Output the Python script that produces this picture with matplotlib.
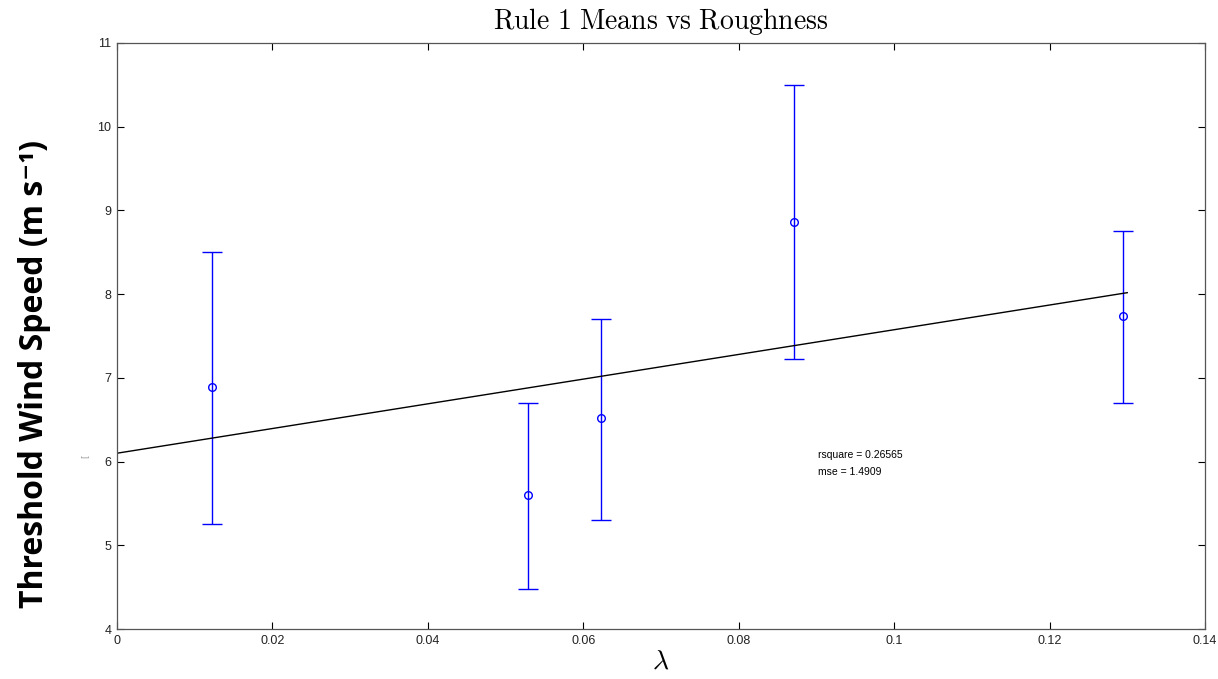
import numpy as np
import matplotlib
matplotlib.use("Agg")
import matplotlib.pyplot as plt

# roughness vs threshold wind speed (rule 1 means)
lam = [0.0122, 0.0529, 0.0623, 0.0871, 0.1295]
means = [6.89, 5.60, 6.52, 8.86, 7.74]
upper = [8.50, 6.70, 7.70, 10.50, 8.75]
lower = [5.25, 4.48, 5.30, 7.22, 6.70]

# fitted line
fit_x = [0.0, 0.13]
fit_intercept = 6.10
fit_slope = 14.75
rsquare = 0.26565
mse = 1.4909

plt.rcParams["mathtext.fontset"] = "cm"

fig = plt.figure(figsize=(12.18, 6.79), dpi=100)
ax = fig.add_axes([0.0961, 0.0736, 0.8932, 0.8631])

m = np.array(means)
yerr = [m - np.array(lower), np.array(upper) - m]
ax.errorbar(lam, means, yerr=yerr, fmt="o", color="#0000ff", mfc="none",
            ms=5.5, mew=1.0, elinewidth=1.0, capsize=7, capthick=1.0)

fx = np.array(fit_x)
ax.plot(fx, fit_intercept + fit_slope * fx, color="black", lw=1.0)

ax.text(0.0902, 6.08, f"rsquare = {rsquare}", fontsize=7.5,
        family="Liberation Sans", va="center")
ax.text(0.0902, 5.88, f"mse = {mse}", fontsize=7.5,
        family="Liberation Sans", va="center")

ax.set_xlim(0, 0.14)
ax.set_ylim(4, 11)
ax.set_xticks([0, 0.02, 0.04, 0.06, 0.08, 0.1, 0.12, 0.14])
ax.set_xticklabels(["0", "0.02", "0.04", "0.06", "0.08", "0.1", "0.12", "0.14"])
ax.set_yticks(range(4, 12))
ax.tick_params(direction="in", top=True, right=True, length=5, width=0.8,
               labelsize=9, pad=4, labelcolor="#222222")
for lab in ax.get_xticklabels() + ax.get_yticklabels():
    lab.set_family("Liberation Sans")
for sp in ax.spines.values():
    sp.set_color("#555555")
    sp.set_linewidth(0.9)

ax.set_title(r"$\mathrm{Rule\ 1\ Means\ vs\ Roughness}$", fontsize=20, pad=10)
ax.set_xlabel(r"$\lambda$", fontsize=20, labelpad=0)

# leftover empty label from the original figure
fig.text(0.070, 1 - 456 / 679, "[", fontsize=6, color="#999999",
         rotation=90, ha="center", va="center")

fig.text(0.028, 1 - 374 / 679, "Threshold Wind Speed (m s\u207b\u00b9)",
         fontsize=23, fontweight="bold", family=["Open Sans", "DejaVu Sans"],
         rotation=90, ha="center", va="center")

fig.savefig("out.png", dpi=100)
